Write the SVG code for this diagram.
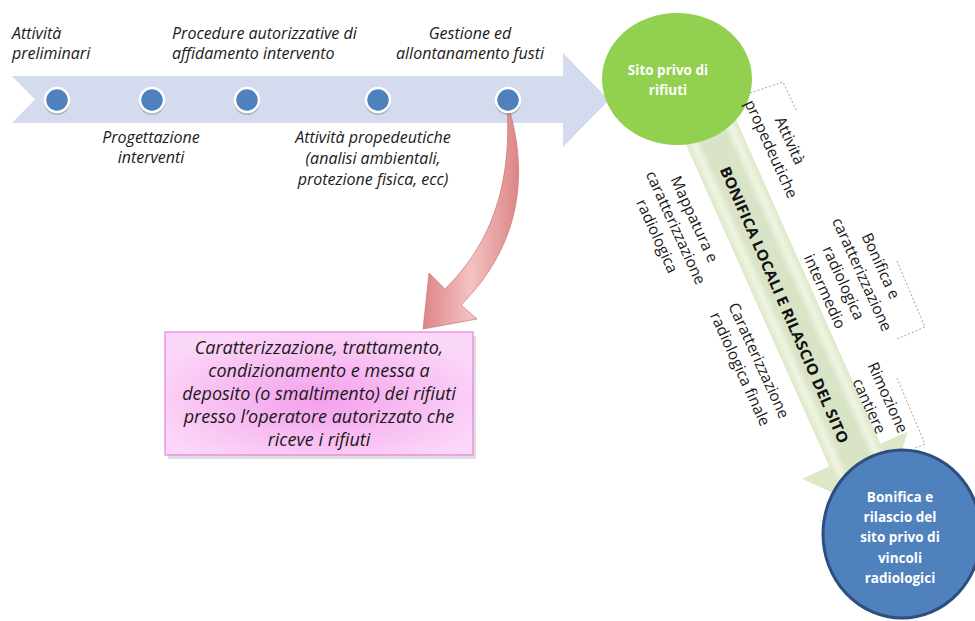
<svg xmlns="http://www.w3.org/2000/svg" width="975" height="621" viewBox="0 0 975 621">
<style>
  .it{font-family:"Open Sans","DejaVu Sans",sans-serif;font-style:italic;font-size:16px;fill:#1a1a1a}
  .itc{font-family:"Open Sans","DejaVu Sans",sans-serif;font-style:italic;font-size:16px;fill:#1a1a1a;text-anchor:middle}
  .box{font-family:"Open Sans","DejaVu Sans",sans-serif;font-style:italic;font-size:18px;fill:#1a1a1a;text-anchor:middle}
  .rot{font-family:"Open Sans","DejaVu Sans",sans-serif;font-size:15.5px;fill:#1a1a1a;text-anchor:middle}
  .big{font-family:"Open Sans","DejaVu Sans",sans-serif;font-weight:bold;font-size:15px;fill:#111;text-anchor:middle}
  .wt{font-family:"Open Sans","DejaVu Sans",sans-serif;font-weight:bold;font-size:13.5px;fill:#ffffff;text-anchor:middle}
  .dot{fill:#4f81bd;stroke:#ffffff;stroke-width:2.5}
  .dsh{fill:#000;opacity:0.18}
  .br{fill:none;stroke:#9a9a9a;stroke-width:0.9;stroke-dasharray:2 2}
</style>
<defs>
  <linearGradient id="redg" x1="0" y1="0" x2="1" y2="0">
    <stop offset="0" stop-color="#dd8585"/>
    <stop offset="0.5" stop-color="#f4c2c2"/>
    <stop offset="1" stop-color="#dd8585"/>
  </linearGradient>
  <radialGradient id="pinkg" cx="0.5" cy="0.55" r="0.6">
    <stop offset="0" stop-color="#f3a0ec"/>
    <stop offset="1" stop-color="#fcd8f8"/>
  </radialGradient>
  <linearGradient id="greeng" gradientUnits="userSpaceOnUse" x1="0" y1="-28" x2="0" y2="28">
    <stop offset="0" stop-color="#dde8c8"/>
    <stop offset="0.14" stop-color="#eff5e3"/>
    <stop offset="0.28" stop-color="#d9e3c6"/>
    <stop offset="0.72" stop-color="#d9e3c6"/>
    <stop offset="0.86" stop-color="#eff5e3"/>
    <stop offset="1" stop-color="#dde8c8"/>
  </linearGradient>
</defs>

<g id="connectors">
  <polygon id="timeline-arrow" points="12,76 563,76 563,53 609,100 563,147 563,123 12,123 35,99.5" fill="#d4dbee"/>
  <g id="green-arrow" transform="translate(719,150) rotate(66)">
    <polygon points="-40,-28 334,-28 334,-58 400,0 334,58 334,28 -40,28" fill="url(#greeng)"/>
  </g>
  <g id="red-arrow">
    <path d="M507,102 C529,170 523,243 461,305 L477,319 L423,329 L429,273 L445,289 C500,235 511,170 507,102 Z" fill="url(#redg)" stroke="#c97676" stroke-width="0.7"/>
  </g>
  <polyline class="br" points="750,93 783,82 797,112"/>
  <polyline class="br" points="897,261 925,327 897,339"/>
  <polyline class="br" points="897,378 925,444 915,448"/>
</g>

<g id="dots">
  <circle class="dsh" cx="57" cy="102" r="13"/>
  <circle class="dot" cx="57" cy="100" r="12"/>
  <circle class="dsh" cx="152" cy="102" r="13"/>
  <circle class="dot" cx="152" cy="100" r="12"/>
  <circle class="dsh" cx="247" cy="102" r="13"/>
  <circle class="dot" cx="247" cy="100" r="12"/>
  <circle class="dsh" cx="378" cy="102" r="13"/>
  <circle class="dot" cx="378" cy="100" r="12"/>
  <circle class="dsh" cx="508" cy="102" r="13"/>
  <circle class="dot" cx="508" cy="100" r="12"/>
</g>

<g id="label-preliminari">
  <text class="it" x="12" y="39">Attività</text>
  <text class="it" x="12" y="59">preliminari</text>
</g>
<g id="label-progettazione">
  <text class="itc" x="151" y="143">Progettazione</text>
  <text class="itc" x="151" y="163">interventi</text>
</g>
<g id="label-procedure">
  <text class="it" x="172" y="39">Procedure autorizzative di</text>
  <text class="it" x="172" y="59">affidamento intervento</text>
</g>
<g id="label-propedeutiche">
  <text class="itc" x="373" y="143">Attività propedeutiche</text>
  <text class="itc" x="373" y="164">(analisi ambientali,</text>
  <text class="itc" x="373" y="185">protezione fisica, ecc)</text>
</g>
<g id="label-gestione">
  <text class="itc" x="470" y="39">Gestione ed</text>
  <text class="itc" x="470" y="59">allontanamento fusti</text>
</g>

<g id="node-operatore">
  <rect x="168" y="336" width="308" height="123" fill="#000" opacity="0.12"/>
  <rect x="165" y="332" width="308" height="123" fill="url(#pinkg)" stroke="#e77ee0" stroke-width="1.2"/>
  <text class="box" x="319" y="354">Caratterizzazione, trattamento,</text>
  <text class="box" x="319" y="377">condizionamento e messa a</text>
  <text class="box" x="319" y="400">deposito (o smaltimento) dei rifiuti</text>
  <text class="box" x="319" y="423">presso l’operatore autorizzato che</text>
  <text class="box" x="319" y="446">riceve i rifiuti</text>
</g>

<g id="node-sito">
  <ellipse cx="677" cy="79" rx="75" ry="66" fill="#92d050"/>
  <text class="wt" x="668" y="75">Sito privo di</text>
  <text class="wt" x="668" y="95">rifiuti</text>
</g>

<g id="label-bonifica-main" transform="translate(784,305) rotate(66.5)">
  <text class="big" x="0" y="5" textLength="300" lengthAdjust="spacingAndGlyphs">BONIFICA LOCALI E RILASCIO DEL SITO</text>
</g>

<g id="label-attivita" transform="translate(780,145) rotate(65.5)">
  <text class="rot" x="0" y="-5.5">Attività</text>
  <text class="rot" x="0" y="15">propedeutiche</text>
</g>
<g id="label-mappatura" transform="translate(675,228) rotate(65.5)">
  <text class="rot" x="0" y="-16">Mappatura e</text>
  <text class="rot" x="0" y="4.5">caratterizzazione</text>
  <text class="rot" x="0" y="25">radiologica</text>
</g>
<g id="label-intermedio" transform="translate(852,279) rotate(65.5)">
  <text class="rot" x="0" y="-26.25">Bonifica e</text>
  <text class="rot" x="0" y="-5.75">caratterizzazione</text>
  <text class="rot" x="0" y="14.75">radiologica</text>
  <text class="rot" x="0" y="35.25">intermedio</text>
</g>
<g id="label-finale" transform="translate(749,365) rotate(65.5)">
  <text class="rot" x="0" y="-5.5">Caratterizzazione</text>
  <text class="rot" x="0" y="15">radiologica finale</text>
</g>
<g id="label-rimozione" transform="translate(878,402) rotate(65.5)">
  <text class="rot" x="0" y="-5.5">Rimozione</text>
  <text class="rot" x="0" y="15">cantiere</text>
</g>

<g id="node-rilascio">
  <ellipse cx="902" cy="534" rx="79" ry="84" fill="#4f81bd" stroke="#2d4f7f" stroke-width="3"/>
  <text class="wt" x="900" y="502">Bonifica e</text>
  <text class="wt" x="900" y="522">rilascio del</text>
  <text class="wt" x="900" y="542">sito privo di</text>
  <text class="wt" x="900" y="563">vincoli</text>
  <text class="wt" x="900" y="583">radiologici</text>
</g>
</svg>
